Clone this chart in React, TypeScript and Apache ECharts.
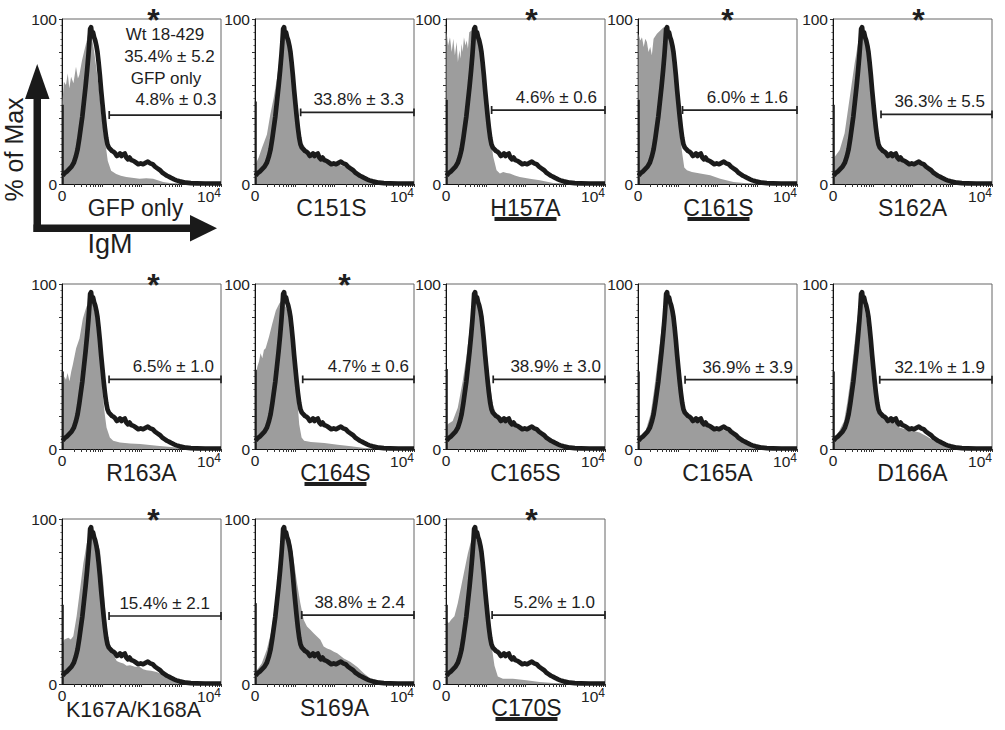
import React, { useEffect, useRef } from "react";
import * as echarts from "echarts";

const FONT = "'Liberation Sans', Arial, Helvetica, sans-serif";

// ---------- data ----------
const panelNames = ["GFP only", "C151S", "H157A", "C161S", "S162A", "R163A", "C164S", "C165S", "C165A", "D166A", "K167A/K168A", "S169A", "C170S"];
const starred = [true, false, true, true, true, true, true, false, false, false, true, false, true];
const underlined = [false, false, true, true, false, false, true, false, false, false, false, false, true];
const gateTexts = ["", "33.8% ± 3.3", "4.6% ± 0.6", "6.0% ± 1.6", "36.3% ± 5.5", "6.5% ± 1.0", "4.7% ± 0.6", "38.9% ± 3.0", "36.9% ± 3.9", "32.1% ± 1.9", "15.4% ± 2.1", "38.8% ± 2.4", "5.2% ± 1.0"];
const gateStart = [29.7, 28.7, 28.7, 28.0, 30.2, 29.6, 30.0, 29.7, 29.6, 29.4, 29.6, 29.4, 29.0];
const gateLevel = [41.8, 43.4, 44.8, 44.8, 42.2, 42.2, 42.2, 42.2, 42.0, 42.0, 41.2, 41.8, 41.8];
const spikeHeight = [48, 50, 51, 51, 48, 47, 48, 48.5, 47, 47, 48, 49, 48];
const panel1Notes = ["Wt 18-429", "35.4% ± 5.2", "GFP only", "4.8% ± 0.3"];
const yTickLabels = ["0", "100"];
const xTickLabels = ["0", "10{s|4}"];

// black line: Wt 18-429 (x: % of axis width, y: % of max)
const wtCurve = [
  [0.4, 5], [1.5, 6.5], [3, 7.5], [4.5, 9], [6, 10.5], [7.5, 13], [8.8, 17], [9.8, 21], [10.8, 27], [11.8, 34], [12.8, 41], [13.8, 50], [14.8, 59], [15.8, 69], [16.6, 78], [17.2, 86], [17.7, 94], [18.3, 95], [18.9, 90], [19.5, 92], [20.2, 89], [20.9, 87], [21.6, 84], [22.3, 80], [23, 74], [23.8, 66], [24.6, 57], [25.4, 49], [26.2, 41], [27, 34], [27.8, 28], [28.6, 24], [29.5, 22], [30.5, 21], [31.5, 20], [32.5, 19.5], [33.5, 18.5], [34.5, 17], [35.5, 17.5], [36.5, 18.5], [37.5, 17], [38.5, 18], [39.5, 18.5], [40.5, 16], [41.5, 15], [42.5, 16], [43.5, 14.5], [45, 14], [46.5, 13], [48, 12], [49.5, 12.5], [51, 12], [52.5, 12.8], [54, 13.5], [55.5, 12.5], [57, 12], [58.5, 10.5], [60, 9.5], [61.5, 8.5], [63, 7], [64.5, 6], [66, 5], [67.5, 4.3], [69, 3.5], [70.5, 2.8], [72, 2.2], [74, 1.6], [76, 1.2], [78, 0.8], [81, 0.5], [85, 0.4], [90, 0.3], [95, 0.3], [100, 0.3]
];

// gray fills, one per panel
const grayGfpOnly = [[0.3, 50], [1.2, 62], [2.5, 60], [3.6, 67], [4.6, 58], [5.7, 65], [7.2, 61], [8.8, 71], [10, 64], [10.9, 66], [12.6, 75], [14.1, 81], [15.6, 87], [16.8, 93], [18.3, 91], [19.8, 83], [21.5, 71], [23.2, 58], [24.6, 44], [26.1, 32], [27.4, 24], [28.8, 14], [30.9, 8], [34.1, 6], [37, 5], [40.4, 4.2], [44, 3.8], [48.8, 3.2], [53, 3.5], [57.3, 3.2], [63.6, 1.2], [69.9, 0.3], [80, 0.1], [100, 0]];
const grayC151S = [[0.4, 12], [2.3, 16], [4.4, 22], [6, 26], [7.5, 30], [9.6, 42], [11.7, 52], [13.8, 64], [15.9, 79], [18, 89], [19.7, 91], [21.2, 85], [23.3, 73], [25.4, 55], [27.5, 37], [29.6, 25], [32.7, 20.4], [34.8, 19], [36.9, 18.3], [39, 17.5], [41.1, 16.3], [43.2, 14.5], [45.3, 13.3], [49.5, 12.3], [53.7, 11.3], [57.9, 10.3], [62.1, 7.3], [66.2, 4.2], [70.4, 2.2], [74, 1.2], [78.8, 0.6], [85, 0.3], [100, 0.2]];
const grayH157A = [[0.3, 93], [1.3, 84], [2.5, 89], [3.6, 80], [4.6, 88], [5.6, 78], [6.7, 86], [7.5, 74], [8.4, 81], [9.1, 76], [9.8, 85], [10.5, 80], [11.3, 89], [12.2, 84], [13, 87], [13.8, 82], [14.6, 92], [16.1, 93], [17.6, 94], [18.8, 92], [20.3, 89], [22.4, 79], [24.5, 65], [26.6, 44.6], [28, 28.6], [29.7, 16.5], [31.8, 8.3], [33.9, 6.3], [36, 7.3], [38.1, 6.7], [40.2, 6.3], [43.3, 5.2], [46.4, 4.2], [52.7, 3.2], [59, 2.2], [67.4, 0.6], [75, 0.2], [100, 0]];
const grayC161S = [[0.3, 91], [1.5, 87], [2.5, 89], [3.6, 83], [4.6, 88], [5.6, 86], [6.6, 80], [7.7, 83], [8.7, 78], [9.8, 88], [11.9, 91], [14, 93], [16.1, 95], [17.6, 94], [18.8, 93], [20.3, 87], [21.3, 81], [22.8, 69], [24.5, 53], [26.2, 34], [27.6, 20], [29.1, 10], [30.8, 8.3], [33.9, 7.3], [39.1, 6.3], [45.4, 5.3], [51.7, 3.2], [60, 1.2], [70, 0.3], [100, 0]];
const grayS162A = [[0.4, 14], [1, 16.4], [4.2, 20.6], [7.3, 30.8], [9.4, 44.9], [11.5, 59], [13.6, 73], [15.7, 85], [17.8, 92], [19.3, 94], [21, 89], [23, 75], [25.2, 57], [27.3, 36.6], [29.4, 24.5], [31.5, 21.5], [33.5, 20.4], [35.5, 19], [37.7, 18.4], [39.8, 18], [41.9, 17.4], [44, 15.5], [46.1, 14.4], [48.2, 13], [50.3, 12.3], [54.5, 12.3], [58.7, 10.3], [62.9, 8.3], [67.1, 5.3], [71.3, 3.2], [75.5, 1.6], [80, 1], [83.9, 0.6], [90, 0.3], [100, 0.2]];
const grayR163A = [[0.4, 37], [1.5, 44], [2.5, 42], [3.5, 46], [4.7, 41], [5.8, 47], [6.8, 51], [8.9, 61], [11, 67], [13.1, 79], [15.3, 86], [16.5, 88], [17.4, 89], [18.4, 92], [19.5, 87], [20.6, 83], [22, 77], [23.7, 61], [24.8, 45], [25.8, 31], [26.9, 21], [28, 13], [30.1, 7], [32.2, 5], [36.4, 4], [42.8, 3.4], [49.2, 3], [59.7, 2], [70.3, 1], [80, 0.3], [100, 0]];
const grayC164S = [[0.5, 45], [1.5, 50], [2.5, 53], [3.5, 58], [4.6, 55], [5.6, 60], [6.7, 61], [8.8, 68], [10.9, 76], [13.1, 84], [15.2, 88], [16.6, 90], [18.3, 88], [20.4, 84], [22.1, 80], [23.6, 70], [25, 52], [26.7, 29], [27.8, 15], [29.3, 7], [30.9, 5], [35.2, 4.3], [43.6, 3.7], [52, 2.6], [60.4, 1.6], [68.8, 0.6], [78, 0.2], [100, 0]];
const grayC165S = [[0.4, 13], [1, 15], [4.2, 17], [7.4, 25], [10.5, 41], [12.7, 55], [14.8, 72], [16.9, 86], [19, 94], [20.7, 90], [23.2, 82], [25.3, 62], [27.4, 41], [29.5, 27], [31.6, 21], [33.8, 20], [35.9, 19], [38, 18], [40.1, 17], [42.2, 16], [44.3, 15], [48.5, 13], [52.7, 12], [57, 11], [61.2, 9], [65.4, 5.7], [69.6, 3.7], [73.8, 2.2], [78, 1.5], [82.3, 1], [90, 0.4], [100, 0.2]];
const grayC165A = [[0.4, 6], [0.8, 6.7], [4.7, 10.8], [7.9, 21], [10, 35], [12.1, 51], [14.2, 68], [16.3, 84], [17.8, 92], [19.5, 88], [21.7, 84], [23.8, 70], [25.9, 49.5], [28, 31], [30.1, 21], [32.2, 20], [34.4, 19], [36.5, 18.5], [38.6, 18], [40.7, 16.5], [42.9, 15], [45, 14], [47.1, 13], [51.4, 12], [55.6, 11], [59.9, 8.8], [64.1, 5.7], [68.4, 3.7], [72.6, 2.2], [76, 1.5], [79, 1], [85, 0.5], [100, 0.2]];
const grayD166A = [[0.4, 6], [0.8, 6.7], [3.8, 10.8], [7, 17], [9.1, 29], [11.2, 43.6], [13.3, 62], [15.4, 80], [17.5, 92], [19.6, 86], [21.7, 76], [23.8, 57.6], [25.9, 37], [28.1, 25], [30.2, 21], [33.3, 19], [35.5, 18], [37.6, 17], [39.7, 15], [41.8, 13], [44, 12.5], [46, 12], [50.2, 11], [54.4, 10], [58.6, 7.9], [62.9, 5.3], [67.1, 3.3], [71.3, 1.6], [75, 1.2], [79.7, 0.8], [85, 0.4], [100, 0.2]];
const grayK167AK168A = [[0.4, 24], [1.5, 27], [4, 28], [5.5, 27], [7.1, 29], [9.2, 41], [11.3, 57], [13.4, 73], [15.5, 85], [17.6, 93], [19.7, 93], [21.8, 87], [23.9, 81], [26, 61], [27, 47], [28.1, 33], [30.2, 24], [32.3, 18], [34.4, 14], [36.5, 13], [38.6, 12.4], [40.7, 11], [42.8, 11.4], [45.9, 10.5], [49, 10.3], [51, 9], [53.2, 8.3], [56, 8], [59.5, 7.3], [64, 5.5], [70, 3.2], [75, 2], [80.5, 1.2], [88, 0.4], [100, 0.1]];
const grayS169A = [[0.4, 7], [1.1, 8.3], [4.2, 12.4], [7.4, 20.7], [10.5, 32.9], [12.7, 49], [14.8, 69.4], [16.9, 87.6], [18.6, 95.7], [20, 91.7], [22.2, 87.6], [24.3, 75.5], [26.4, 61.3], [28.5, 49.1], [30.6, 39], [32.7, 34.9], [34.8, 32.9], [36.9, 30.8], [39, 28.8], [41.1, 26.8], [43.2, 22.7], [45.3, 21.5], [47.5, 20.7], [49.6, 19.5], [51.7, 18.7], [55.9, 15.4], [60.1, 13.4], [64.3, 10.3], [68.6, 6.3], [72.8, 3.2], [79.1, 1.8], [84, 1], [89.7, 0.6], [100, 0.2]];
const grayC170S = [[0.6, 38], [1.8, 37], [3.2, 39], [5.3, 41], [7.4, 49], [9.5, 59], [11.6, 69], [13.7, 79], [15.8, 87], [17.9, 89], [19.4, 87], [21.1, 83], [23.2, 73], [25.3, 55], [26.9, 39], [28.4, 25], [30.5, 11], [32.6, 4.5], [35.8, 3.2], [42.1, 3.2], [50.5, 2.2], [58.9, 1.2], [67.4, 0.6], [75, 0.2], [100, 0]];

const grayCurves = [grayGfpOnly, grayC151S, grayH157A, grayC161S, grayS162A, grayR163A, grayC164S, grayC165S, grayC165A, grayD166A, grayK167AK168A, grayS169A, grayC170S];

// ---------- layout ----------
const COL_LEFT = [62, 255, 446, 638, 833];
const ROW_TOP = [19, 284, 519];
const PW = 159;
const PH = 165;
const GRAY = "#9d9d9d";
const INK = "#1b1b1b";
const labelShift = [-6, -3, 0, 1, 0, 0, 1, 0, 0, 0, -8, 0, 1];
const labelSize = [23, 23, 23, 23, 23, 23, 23, 23, 23, 23, 21.5, 23, 23];
const labelDrop = [24, 24, 24, 24, 24, 24, 24, 24, 24, 24, 26, 24, 24];
const gateTextInset = [0, 10, 8, 9, 7, 7, 5, 4, 4, 7, 11, 9, 10];
const starShift = [12, 10, 6, 10, 6, 12, 10, 6, 10, 6, 12, 10, 6];

function box(i: number) {
  const r = Math.floor(i / 5);
  const c = i % 5;
  return { left: COL_LEFT[c], top: ROW_TOP[r] };
}

// log-like decade ticks for the 0 .. 10^4 axis (4 decades over the width)
const xTickValues: number[] = [];
for (let k = 0; k < 4; k++) {
  for (let m = 2; m <= 9; m++) xTickValues.push(25 * k + 25 * Math.log10(m));
  xTickValues.push(25 * (k + 1));
}

function txt(text: string, x: number, y: number, fontSize: number, align = "center", extra: any = {}) {
  return {
    type: "text", x, y, ...extra,
    style: { text, fontSize, fontFamily: FONT, fill: "#1e1e1e", align, verticalAlign: "middle", textAlign: align, textVerticalAlign: "middle", ...(extra.style || {}) },
  };
}

function buildOption() {
  const grid: any[] = [];
  const xAxis: any[] = [];
  const yAxis: any[] = [];
  const series: any[] = [];
  const graphic: any[] = [];

  panelNames.forEach((name, i) => {
    const b = box(i);
    grid.push({
      left: b.left, top: b.top, width: PW, height: PH,
      show: true, borderColor: "#666", borderWidth: 1, backgroundColor: "transparent",
      containLabel: false, outerBoundsMode: "none",
    });
    xAxis.push({
      gridIndex: i, type: "value", min: 0, max: 100,
      axisLine: { show: true, onZero: false, lineStyle: { color: "#111", width: 1 } },
      axisTick: { show: true, length: 3, customValues: xTickValues, lineStyle: { color: "#333", width: 1 } },
      axisLabel: {
        show: true, customValues: [0, 100], margin: 3, fontSize: 15.5, color: "#222", fontFamily: FONT,
        alignMaxLabel: "right",
        formatter: (v: number) => (v === 0 ? xTickLabels[0] : xTickLabels[1]),
        rich: { s: { fontSize: 12, fontFamily: FONT, color: "#222", padding: [0, 0, 7, 0] } },
      },
      splitLine: { show: false },
    });
    yAxis.push({
      gridIndex: i, type: "value", min: 0, max: 100, interval: 20,
      axisLine: { show: true, lineStyle: { color: "#111", width: 1 } },
      axisTick: { show: true, length: 3, lineStyle: { color: "#333", width: 1 } },
      minorTick: { show: true, splitNumber: 5, length: 1.5, lineStyle: { color: "#555", width: 1 } },
      axisLabel: {
        show: true, margin: 5, fontSize: 15.5, color: "#222", fontFamily: FONT,
        formatter: (v: number) => (v === 0 ? yTickLabels[0] : v === 100 ? yTickLabels[1] : ""),
      },
      splitLine: { show: false },
    });

    series.push({
      type: "line", xAxisIndex: i, yAxisIndex: i, data: grayCurves[i], symbol: "none",
      lineStyle: { width: 0, color: GRAY }, areaStyle: { color: GRAY, opacity: 1 }, z: 2, silent: true,
    });
    series.push({
      type: "line", xAxisIndex: i, yAxisIndex: i, data: wtCurve, symbol: "none",
      lineStyle: { width: 4.7, color: INK, join: "round" }, z: 4, silent: true,
    });
    series.push({
      type: "line", xAxisIndex: i, yAxisIndex: i, data: [[0.5, 0], [0.5, spikeHeight[i]]], symbol: "none",
      lineStyle: { width: 2, color: INK }, z: 5, clip: false, silent: true,
    });
    const gx = gateStart[i];
    const gy = gateLevel[i];
    series.push({
      type: "line", xAxisIndex: i, yAxisIndex: i, symbol: "none",
      data: [[gx, gy - 2.4], [gx, gy + 2.4], [gx, gy], [100, gy], [100, gy + 2.4], [100, gy - 2.4]],
      lineStyle: { width: 1.7, color: "#222" }, z: 6, clip: false, silent: true,
    });

    const cx = b.left + PW / 2;
    const bottom = b.top + PH;
    graphic.push(txt(name, cx + labelShift[i], bottom + labelDrop[i], labelSize[i]));
    if (underlined[i]) {
      graphic.push({ type: "rect", shape: { x: cx - 31 + labelShift[i], y: bottom + 33, width: 62, height: 4 }, style: { fill: "#1e1e1e" } });
    }
    if (starred[i]) {
      graphic.push(txt("*", b.left + PW / 2 + starShift[i], b.top + 1, 32, "center", { style: { fontWeight: "bold" } }));
    }
    if (gateTexts[i]) {
      graphic.push(txt(gateTexts[i], b.left + PW - gateTextInset[i], b.top + (1 - gy / 100) * PH - 12.5, 17, "right"));
    }
  });

  // notes in first panel
  const notePos = [[103, 15], [107.5, 37], [104, 59.5], [114, 80.5]];
  panel1Notes.forEach((t, k) => {
    graphic.push(txt(t, COL_LEFT[0] + notePos[k][0], ROW_TOP[0] + notePos[k][1], 17));
  });

  // big axis arrows
  graphic.push({ type: "rect", shape: { x: 33.5, y: 96, width: 7.5, height: 136 }, style: { fill: "#1a1a1a" } });
  graphic.push({ type: "polygon", shape: { points: [[37.2, 64], [25, 99], [49.5, 99]] }, style: { fill: "#1a1a1a" } });
  graphic.push({ type: "rect", shape: { x: 33.5, y: 224.5, width: 159, height: 7.5 }, style: { fill: "#1a1a1a" } });
  graphic.push({ type: "polygon", shape: { points: [[217, 228.2], [190, 215], [190, 241.5]] }, style: { fill: "#1a1a1a" } });
  graphic.push(txt("% of Max", 14, 149.5, 25, "center", { rotation: Math.PI / 2 }));
  graphic.push(txt("IgM", 110, 244, 27));

  return {
    animation: false,
    backgroundColor: "#ffffff",
    grid, xAxis, yAxis, series, graphic,
  };
}

export default function App() {
  const ref = useRef<HTMLDivElement>(null);
  useEffect(() => {
    if (!ref.current) return;
    const chart = echarts.init(ref.current, null, { renderer: "svg" });
    chart.setOption(buildOption() as any);
    return () => chart.dispose();
  }, []);
  return <div ref={ref} style={{ position: "absolute", left: 0, top: 0, width: 1005, height: 730 }} />;
}
